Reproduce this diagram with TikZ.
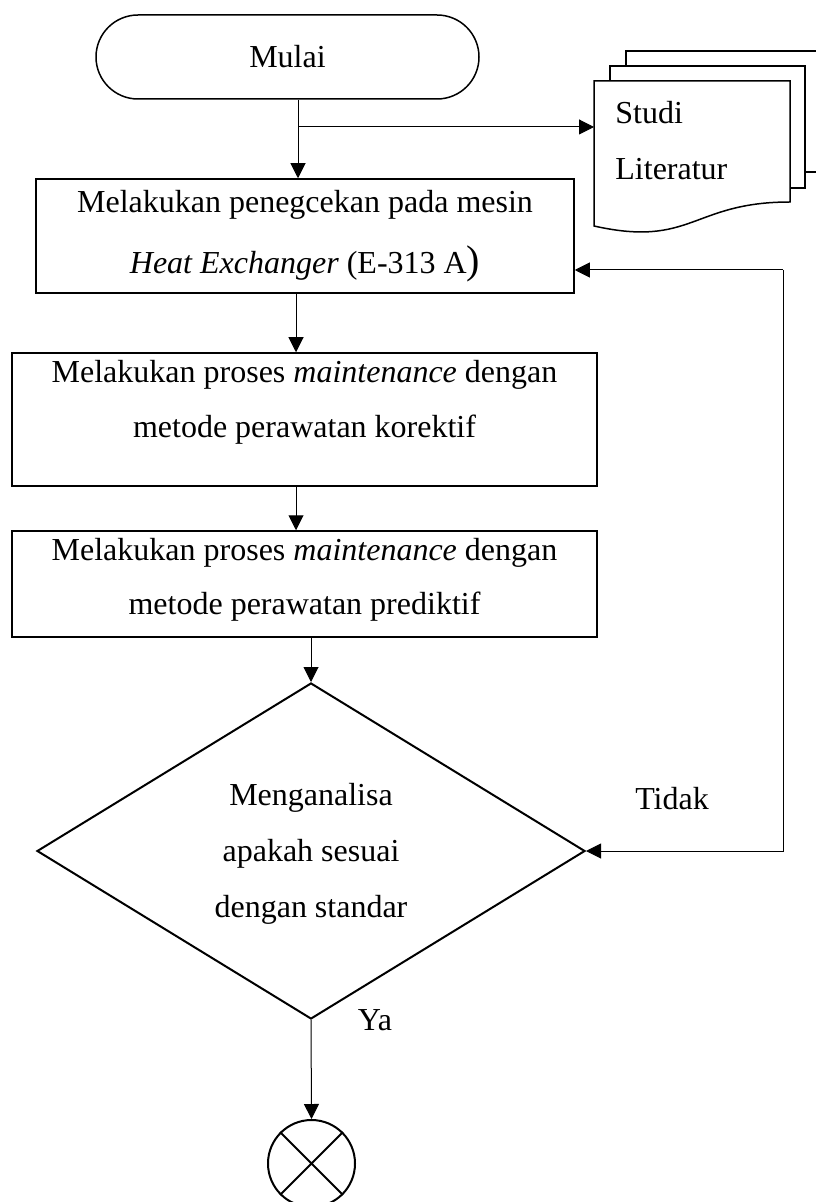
\documentclass[tikz,border=0pt]{standalone}
\usepackage{fontspec}
\setmainfont{Liberation Serif}
\usetikzlibrary{arrows.meta,shapes.geometric}
\begin{document}
\begin{tikzpicture}[x=0.5pt,y=-0.5pt,
  every node/.style={font=\fontsize{16pt}{28pt}\selectfont},
  boxnode/.style={draw,line width=0.75pt,rectangle,inner sep=0pt},
  conn/.style={line width=0.5pt,-{Triangle[length=7.5pt,width=7.5pt]}},
  plain/.style={line width=0.5pt},
  shapeline/.style={line width=0.75pt},
  txt/.style={align=center,inner sep=0pt}]
\useasboundingbox (0,0) rectangle (815,1202);

% start terminal
\node[draw,line width=0.75pt,rounded corners=21pt,minimum width=191.5pt,minimum height=42pt,inner sep=0pt] (start) at (287.5,57) {Mulai};

% document (Studi Literatur)
\draw[shapeline] (626,66) -- (626,51) -- (822,51);
\draw[shapeline] (805,172) -- (822,172);
\draw[shapeline,fill=white] (610,81) -- (610,66) -- (805,66) -- (805,188) -- (790,188);
\draw[shapeline,fill=white] (594,81) -- (790,81) -- (790,202) .. controls (692,202) and (692,248) .. (594,226) -- cycle;
\node[align=left,anchor=west,inner sep=0pt] (doc) at (615,141) {Studi\\Literatur};
\coordinate (docL) at (594,127);

% process boxes
\node[boxnode,minimum width=269pt,minimum height=57pt,align=center,font=\fontsize{16pt}{30.5pt}\selectfont] (b1) at (305,236) {Melakukan penegcekan pada mesin\\\textit{Heat Exchanger} (E-313 A{\fontsize{20pt}{20pt}\selectfont)}};

\node[boxnode,minimum width=292.5pt,minimum height=66.5pt] (b2) at (304.5,419.5) {};
\node[txt,font=\fontsize{16pt}{27.5pt}\selectfont] (t2) at (304.5,402.5) {Melakukan proses \textit{maintenance} dengan\\metode perawatan korektif};

\node[boxnode,minimum width=292.5pt,minimum height=53pt] (b3) at (304.5,584) {};
\node[txt,font=\fontsize{16pt}{27pt}\selectfont] (t3) at (304.5,580) {Melakukan proses \textit{maintenance} dengan\\metode perawatan prediktif};

% decision
\node[draw,diamond,line width=1pt,minimum width=274pt,minimum height=168pt,inner sep=0pt] (d) at (311,851) {};
\node[txt] (dt) at (311,854) {Menganalisa\\apakah sesuai\\dengan standar};

% end connector
\node[draw,circle,line width=1pt,minimum size=43.5pt,inner sep=0pt] (e) at (311.5,1163.5) {};
\draw[line width=1pt] (e.45) -- (e.225) (e.135) -- (e.315);

% labels
\node (tidak) at (672,799) {Tidak};
\node (ya) at (375,1020) {Ya};

% connectors
\draw[conn] ([xshift=5.25pt]start.south) -- ([xshift=-3.5pt]b1.north);
\coordinate (br) at (298,127);
\draw[conn] (br) -- (docL);
\draw[conn] ([xshift=-4.5pt]b1.south) -- ([xshift=-4.25pt]b2.north);
\draw[conn] ([xshift=-4.25pt]b2.south) -- ([xshift=-4.25pt]b3.north);
\draw[conn] ([xshift=3.25pt]b3.south) -- (d.north);
\draw[conn] (d.south) -- (e.north);
\coordinate (lp) at (783,270);
\draw[conn] (lp) -- (lp -| b1.east);
\draw[conn] (lp) |- (d.east);
\end{tikzpicture}
\end{document}
